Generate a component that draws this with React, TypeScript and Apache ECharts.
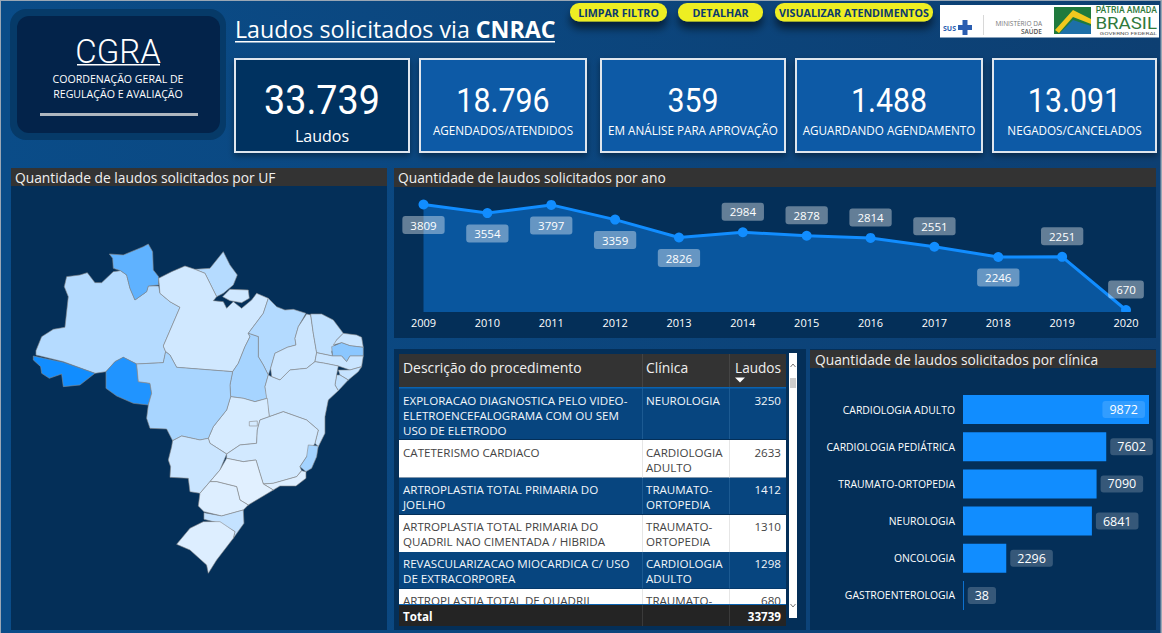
import React, { useEffect, useRef } from "react";
import * as echarts from "echarts";

const FONT = '"Open Sans", sans-serif';
const NUM = 'Roboto, sans-serif';

const kpiValues = ["33.739", "18.796", "359", "1.488", "13.091"];
const kpiLabels = ["Laudos", "AGENDADOS/ATENDIDOS", "EM ANÁLISE PARA APROVAÇÃO", "AGUARDANDO AGENDAMENTO", "NEGADOS/CANCELADOS"];
const buttonLabels = ["LIMPAR FILTRO", "DETALHAR", "VISUALIZAR ATENDIMENTOS"];

const years = ["2009", "2010", "2011", "2012", "2013", "2014", "2015", "2016", "2017", "2018", "2019", "2020"];
const laudosPorAno = [3809, 3554, 3797, 3359, 2826, 2984, 2878, 2814, 2551, 2246, 2251, 670];
const labelBelowYears = ["2009", "2010", "2011", "2012", "2013", "2018"];

const clinicas = ["CARDIOLOGIA ADULTO", "CARDIOLOGIA PEDIÁTRICA", "TRAUMATO-ORTOPEDIA", "NEUROLOGIA", "ONCOLOGIA", "GASTROENTEROLOGIA"];
const laudosPorClinica = [9872, 7602, 7090, 6841, 2296, 38];

const procedimentos = [
  "EXPLORACAO DIAGNOSTICA PELO VIDEO-\nELETROENCEFALOGRAMA COM OU SEM\nUSO DE ELETRODO",
  "CATETERISMO CARDIACO",
  "ARTROPLASTIA TOTAL PRIMARIA DO\nJOELHO",
  "ARTROPLASTIA TOTAL PRIMARIA DO\nQUADRIL NAO CIMENTADA / HIBRIDA",
  "REVASCULARIZACAO MIOCARDICA C/ USO\nDE EXTRACORPOREA",
  "ARTROPLASTIA TOTAL DE QUADRIL",
];
const procClinicas = ["NEUROLOGIA", "CARDIOLOGIA\nADULTO", "TRAUMATO-\nORTOPEDIA", "TRAUMATO-\nORTOPEDIA", "CARDIOLOGIA\nADULTO", "TRAUMATO-"];
const procLaudos = [3250, 2633, 1412, 1310, 1298, 680];

const ufValues: Record<string, number> = {
  AC: 6000, RO: 5580, RR: 3780, PB: 2520, ES: 1800, TO: 1740, MT: 1680, MA: 1380, AM: 1320, AP: 1320,
  SE: 1020, CE: 960, SC: 900, AL: 840, BA: 720, RN: 720, PE: 720, MS: 720, PI: 660, PA: 540, MG: 480,
  DF: 420, GO: 360, RS: 180, RJ: 180, PR: 180, SP: 60,
};

// State outlines (picture units, y downwards)
const ufShapes: Record<string, number[][][]> = {
  AM: [[[108,362],[125,320],[160,298],[195,292],[205,200],[193,170],[200,140],[240,135],[262,128],[285,158],[305,158],[340,125],[362,122],[380,135],[390,175],[405,210],[440,185],[445,168],[476,168],[480,190],[510,215],[540,232],[490,348],[497,365],[490,398],[410,402],[370,382],[345,395],[318,425],[285,430],[190,395],[108,375]]],
  AC: [[[100,378],[190,397],[285,430],[240,465],[190,470],[185,432],[148,445],[125,430],[122,410],[100,390]]],
  RO: [[[318,425],[345,395],[370,382],[410,402],[415,455],[450,460],[455,490],[445,525],[400,520],[350,498],[318,475]]],
  RR: [[[328,72],[370,75],[430,50],[445,42],[458,65],[460,120],[476,140],[476,165],[445,168],[440,185],[405,210],[390,175],[380,135],[362,122],[340,115],[338,85]]],
  AP: [[[585,118],[630,115],[670,65],[690,105],[712,135],[700,165],[670,190],[650,200],[630,160],[615,130]]],
  PA: [
    [[476,145],[515,125],[555,108],[585,118],[615,130],[630,160],[650,200],[640,212],[670,215],[680,235],[700,215],[725,235],[755,210],[770,190],[805,205],[790,250],[745,310],[750,320],[735,350],[715,400],[698,425],[530,412],[510,375],[497,365],[490,348],[540,232],[510,215],[480,190]],
    [[668,200],[690,178],[745,180],[748,205],[725,218],[690,212]],
  ],
  MA: [[[805,205],[830,230],[855,240],[880,238],[918,250],[895,290],[885,325],[888,345],[862,352],[825,370],[812,415],[805,435],[790,405],[775,380],[775,320],[745,310],[790,250]]],
  TO: [[[745,310],[775,320],[775,380],[790,405],[805,435],[795,470],[802,505],[765,515],[730,505],[692,500],[690,465],[698,425],[715,400],[735,350],[750,320]]],
  PI: [[[920,252],[932,255],[940,310],[950,368],[945,395],[920,415],[870,420],[840,450],[815,440],[812,415],[825,370],[862,352],[888,345],[885,325],[895,290]]],
  CE: [[[932,252],[965,252],[1000,270],[1030,310],[1010,330],[995,365],[998,378],[950,368],[940,310]]],
  RN: [[[1030,310],[1070,315],[1085,322],[1090,352],[1050,347],[1025,338],[1000,345],[1010,330]]],
  PB: [[[995,350],[1025,338],[1050,347],[1090,352],[1090,378],[1050,378],[1040,395],[1025,378],[998,378]]],
  PE: [[[945,395],[950,368],[998,378],[1025,378],[1040,395],[1050,378],[1090,378],[1085,410],[1050,420],[1015,408],[975,400]]],
  AL: [[[1015,420],[1050,420],[1085,410],[1075,425],[1045,450],[1020,435]]],
  SE: [[[1010,435],[1020,435],[1045,450],[1015,482],[1005,465]]],
  BA: [[[795,470],[805,435],[815,440],[840,450],[870,420],[920,415],[945,395],[975,400],[1015,408],[1010,435],[1005,465],[1015,482],[985,510],[975,560],[975,610],[955,650],[945,640],[955,600],[920,570],[850,545],[808,560],[800,505]]],
  GO: [[[692,500],[730,505],[765,515],[802,505],[808,560],[780,570],[772,600],[770,640],[720,645],[680,672],[630,640],[625,625],[640,590],[680,540]]],
  MT: [[[410,402],[490,398],[497,365],[510,375],[530,412],[698,425],[690,465],[692,500],[680,540],[640,590],[625,625],[600,630],[545,618],[518,632],[500,597],[450,595],[440,565],[445,525],[455,490],[450,460],[415,455]]],
  MS: [[[518,632],[545,618],[600,630],[625,625],[630,640],[680,672],[660,720],[630,755],[600,790],[570,785],[565,745],[510,742],[512,710],[505,690],[515,650]]],
  MG: [[[680,672],[720,645],[770,640],[772,600],[780,570],[808,560],[850,545],[920,570],[955,600],[945,640],[920,680],[900,710],[905,722],[890,740],[820,760],[790,762],[780,730],[768,690],[730,695],[680,685]]],
  ES: [[[925,645],[955,648],[950,680],[935,715],[918,725],[900,710],[920,680]]],
  RJ: [[[790,762],[820,760],[890,740],[905,722],[918,725],[918,745],[888,768],[840,768],[820,780]]],
  SP: [[[680,685],[730,695],[768,690],[780,730],[790,762],[820,780],[800,792],[745,825],[720,810],[710,770],[650,755],[630,755],[660,720]]],
  PR: [[[630,755],[650,755],[710,770],[720,810],[745,825],[730,840],[665,858],[612,845],[595,828],[600,790]]],
  SC: [[[612,848],[665,858],[730,840],[732,880],[700,925],[705,905],[660,880],[612,868]]],
  RS: [[[610,875],[660,875],[705,905],[700,925],[650,990],[625,1030],[620,1005],[570,960],[530,943],[570,895]]],
  DF: [[[748,575],[772,573],[772,588],[748,588]]],
};

const brazilGeo = {
  type: "FeatureCollection",
  features: Object.keys(ufShapes).map((name) => ({
    type: "Feature",
    properties: { name },
    geometry: {
      type: "MultiPolygon",
      coordinates: ufShapes[name].map((ring) => [ring.map(([x, y]) => [x, -y])]),
    },
  })),
};

const t = (text: string, x: number, y: number, size: number, fill = "#fff", align = "left", extra: any = {}, el: any = {}) => ({
  type: "text", x, y, silent: true, ...el,
  style: { text, fill, align, verticalAlign: "middle", fontSize: size, fontFamily: FONT, ...extra },
});
const r = (x: number, y: number, width: number, height: number, fill: any, extra: any = {}, rad = 0) => ({
  type: "rect", silent: true, shape: { x, y, width, height, r: rad }, style: { fill, ...extra },
});

const cardBoxes = [[235, 174], [420, 166], [601, 184], [796, 186], [993, 163]];
const buttonBoxes = [[570, 97], [678, 85], [775, 158]];
const rowBoxes = [[388, 51], [440, 37.5], [478, 36], [515, 37], [552, 36.5], [589, 15]];
const rowTextY = [400, 452, 489, 526, 563, 600];

function buildGraphic() {
  const g: any[] = [];
  g.push(r(0, 0, 1162, 633, { type: "linear", x: 0, y: 0, x2: 1, y2: 0, colorStops: [{ offset: 0, color: "#0a4c88" }, { offset: 1, color: "#0d3f72" }] }));
  g.push(r(0, 0, 1162, 1, "#9aa7b5"));
  g.push(r(0, 0, 1, 633, "#9aa7b5"));
  g.push(r(1160.5, 0, 1.5, 633, "#9aa7b5"));

  // logo block
  g.push(r(10, 9, 216, 131, "#063a68", {}, 16));
  g.push(r(17, 16, 203, 117, "#03234a", {}, 12));
  g.push(t("CGRA", 118, 51, 33, "#fff", "center", { fontFamily: "Roboto, sans-serif", fontWeight: 300 }));
  g.push(r(77, 64, 83, 1.5, "#fff"));
  g.push(t("COORDENAÇÃO GERAL DE", 118, 79, 10.6, "#fff", "center"));
  g.push(t("REGULAÇÃO E AVALIAÇÃO", 118, 94, 10.6, "#fff", "center"));
  g.push(r(40, 113, 158, 3, "#aeb6bf"));

  // title
  g.push({
    type: "text", x: 235, y: 29, silent: true,
    style: {
      text: "{a|Laudos solicitados via }{b|CNRAC}", verticalAlign: "middle", fill: "#fff",
      rich: {
        a: { fontSize: 23.2, fontFamily: FONT, fill: "#fff", color: "#fff" },
        b: { fontSize: 23.2, fontFamily: FONT, fontWeight: 700, fill: "#fff", color: "#fff" },
      },
    },
  });
  g.push(r(235, 41, 320, 1.5, "#fff"));

  // buttons
  buttonBoxes.forEach(([x, w], i) => {
    g.push(r(x, 3, w, 18.5, "#eeee22", { shadowBlur: 9, shadowOffsetY: 7, shadowColor: "rgba(0,0,0,.55)" }, 9));
    g.push(t(buttonLabels[i], x + w / 2, 12.5, 10.7, "#0a3a6e", "center", { fontWeight: 700 }));
  });

  // government logos
  g.push(r(940, 5, 219, 32.5, "#fff"));
  g.push(t("SUS", 943, 28, 7, "#2a5db0", "left", { fontWeight: 700 }));
  g.push(r(962.5, 20, 5, 15, "#2a5db0"));
  g.push(r(958, 25, 14, 5, "#2a5db0"));
  g.push(r(983, 15, 1, 20, "#d8d8d8"));
  g.push(t("MINISTÉRIO DA", 1042, 23, 6.5, "#777", "right"));
  g.push(t("SAÚDE", 1042, 31, 6.5, "#555", "right", { fontWeight: 600 }));
  g.push(r(1054, 7, 37, 27, "#1f7a3d"));
  g.push({ type: "polygon", silent: true, shape: { points: [[1055, 30], [1073, 10], [1091, 19], [1091, 24], [1073, 17], [1059, 33]] }, style: { fill: "#f2c81e" } });
  g.push({ type: "polygon", silent: true, shape: { points: [[1059, 34], [1073, 20], [1091, 26], [1091, 34]] }, style: { fill: "#1d6fa8" } });
  g.push(t("PÁTRIA AMADA", 1157, 9.5, 8.6, "#2f7a3c", "right", { fontFamily: NUM, fontWeight: 500 }));
  g.push(t("BRASIL", 1157, 22.5, 17, "#2f7a3c", "right", { fontFamily: NUM }, { scaleX: 1.1 }));
  g.push(t("GOVERNO FEDERAL", 1157, 33.5, 4.4, "#555", "right", { fontFamily: NUM }, { scaleX: 1.45 }));

  // KPI cards
  cardBoxes.forEach(([x, w], i) => {
    const main = i === 0;
    g.push(r(x, 59, w, 93, main ? "#063160" : "#0a5aa6", { stroke: "#dfe6ee", lineWidth: 2, shadowBlur: 6, shadowOffsetY: 3, shadowColor: "rgba(0,0,0,.4)" }));
    g.push(t(kpiValues[i], x + w / 2, main ? 100 : 101, main ? 41 : 33, "#fff", "center", { fontFamily: NUM, fontWeight: 400 }, { scaleX: 0.92 }));
    g.push(t(kpiLabels[i], x + w / 2, main ? 136 : 130, main ? 16 : 11.7, "#fff", "center"));
  });

  // panels and headers
  g.push(r(11, 168, 376, 462, "#042f58"));
  g.push(r(11, 168, 376, 18, "#333333"));
  g.push(t("Quantidade de laudos solicitados por UF", 15, 177, 13.8, "#f0f0f0"));
  g.push(r(394, 168, 762, 170, "#042f58"));
  g.push(r(394, 168, 762, 19, "#333333"));
  g.push(t("Quantidade de laudos solicitados por ano", 398, 177.5, 13.8, "#f0f0f0"));
  g.push(r(810, 349, 346, 281, "#042f58"));
  g.push(r(810, 350, 346, 18, "#333333"));
  g.push(t("Quantidade de laudos solicitados por clínica", 815, 359, 13.8, "#f0f0f0"));

  // table
  g.push(r(394, 349, 412, 281, "#042f58"));
  rowBoxes.forEach(([y, h], i) => {
    const dark = i % 2 === 0;
    const ink = dark ? "#f2f6fa" : "#444444";
    g.push(r(399, y, 387, h, dark ? "#07457f" : "#ffffff"));
    procedimentos[i].split("\n").forEach((line, k) => g.push(t(line, 403, rowTextY[i] + k * 15.4, 11.6, ink)));
    procClinicas[i].split("\n").forEach((line, k) => g.push(t(line, 646, rowTextY[i] + k * 15.4, 11.6, ink)));
    g.push(t(String(procLaudos[i]), 781, rowTextY[i], 11.6, ink, "right"));
    g.push(r(642, y, 1, h, dark ? "#1c5a92" : "#e6e6e6"));
    g.push(r(729, y, 1, h, dark ? "#1c5a92" : "#e6e6e6"));
  });
  g.push(r(399, 354, 387, 33, "#333333"));
  g.push(r(399, 387, 387, 1.5, "#0a62b0"));
  g.push(t("Descrição do procedimento", 403, 367, 13.9, "#f0f0f0"));
  g.push(t("Clínica", 646, 367, 13.9, "#f0f0f0"));
  g.push(t("Laudos", 781, 367, 13.6, "#f0f0f0", "right"));
  g.push({ type: "polygon", silent: true, shape: { points: [[735, 377.5], [745, 377.5], [740, 382.5]] }, style: { fill: "#fff" } });
  g.push(r(642, 354, 1, 33, "#444"));
  g.push(r(729, 354, 1, 33, "#444"));
  g.push(r(399, 604, 387, 22, "#242424"));
  g.push(r(399, 604, 387, 1, "#0a62b0"));
  g.push(t("Total", 403, 616, 11.6, "#fff", "left", { fontWeight: 700 }));
  g.push(t("33739", 781, 616, 11.6, "#fff", "right", { fontWeight: 700 }));
  g.push(r(642, 605, 1, 21, "#3a3a3a"));
  g.push(r(729, 605, 1, 21, "#3a3a3a"));

  // scrollbar
  g.push(r(789, 353, 8, 265, "#ffffff"));
  g.push(r(790, 378, 6, 10, "#cdcdcd"));
  g.push({ type: "polyline", silent: true, shape: { points: [[790.5, 367], [793, 364], [795.5, 367]] }, style: { stroke: "#777", fill: "none", lineWidth: 1 } });
  g.push({ type: "polyline", silent: true, shape: { points: [[790.5, 604], [793, 607], [795.5, 604]] }, style: { stroke: "#777", fill: "none", lineWidth: 1 } });

  // the last point of the line is cut at the plot's lower edge
  g.push({ ...r(1118, 312, 16, 4, "#042f58"), z: 10 });
  return g;
}

export default function App() {
  const ref = useRef<HTMLDivElement>(null);
  useEffect(() => {
    document.body.style.margin = "0";
    document.body.style.overflow = "hidden";
    const chart = echarts.init(ref.current!, null, { renderer: "svg" });
    echarts.registerMap("brasil", brazilGeo as any);
    const labelBox = { color: "#fff", fontFamily: FONT, borderRadius: 3, backgroundColor: "rgba(255,255,255,0.38)" };
    chart.setOption({
      animation: false,
      backgroundColor: "transparent",
      graphic: { elements: buildGraphic() },
      grid: [
        { left: 423.5, width: 702.5, top: 204.5, height: 107.5 },
        { left: 963, width: 186, top: 391, height: 223 },
      ],
      xAxis: [
        {
          gridIndex: 0, type: "category", data: years, boundaryGap: false,
          axisLine: { show: false }, axisTick: { show: false }, splitLine: { show: false },
          axisLabel: { color: "#fff", fontSize: 11, fontFamily: FONT, margin: 5, interval: 0, hideOverlap: false },
        },
        { gridIndex: 1, type: "value", min: 0, max: 9872, show: false },
      ],
      yAxis: [
        { gridIndex: 0, type: "value", min: 610, max: 3809, show: false },
        {
          gridIndex: 1, type: "category", inverse: true, data: clinicas,
          axisLine: { show: false }, axisTick: { show: false },
          axisLabel: { color: "#fff", fontSize: 10.4, fontFamily: FONT, margin: 8, interval: 0 },
        },
      ],
      visualMap: { show: false, seriesIndex: 2, min: 0, max: 6000, inRange: { color: ["#e3f1ff", "#118dff"] } },
      series: [
        {
          type: "line", xAxisIndex: 0, yAxisIndex: 0, silent: true,
          data: laudosPorAno.map((value, i) => ({
            value,
            label: { position: labelBelowYears.includes(years[i]) ? "bottom" : "top" },
          })),
          symbol: "circle", symbolSize: 10, clip: false,
          lineStyle: { color: "#118dff", width: 3 },
          itemStyle: { color: "#118dff" },
          areaStyle: { color: "#118dff", opacity: 0.42, origin: "start" },
          label: { show: true, ...labelBox, fontSize: 11.5, distance: 6.5, padding: [3, 8] },
        },
        {
          type: "bar", xAxisIndex: 1, yAxisIndex: 1, silent: true,
          data: laudosPorClinica.map((value, i) => ({
            value,
            label: i === 0
              ? { position: "insideRight", distance: 4, backgroundColor: "rgba(255,255,255,0.14)" }
              : { position: "right", distance: 4 },
          })),
          barWidth: 29,
          itemStyle: { color: "#118dff" },
          label: { show: true, ...labelBox, backgroundColor: "rgba(255,255,255,0.2)", fontSize: 12.5, padding: [2, 7] },
        },
        {
          type: "map", map: "brasil", silent: true, aspectScale: 1,
          left: 33.3, top: 244, width: 330, height: 329.3,
          roam: false, selectedMode: false,
          label: { show: false },
          itemStyle: { borderColor: "#8a8a8a", borderWidth: 0.6 },
          data: Object.keys(ufValues).map((name) => ({ name, value: ufValues[name] })),
        },
      ],
    });
    return () => chart.dispose();
  }, []);
  return <div ref={ref} style={{ position: "absolute", left: 0, top: 0, width: 1162, height: 633 }} />;
}
